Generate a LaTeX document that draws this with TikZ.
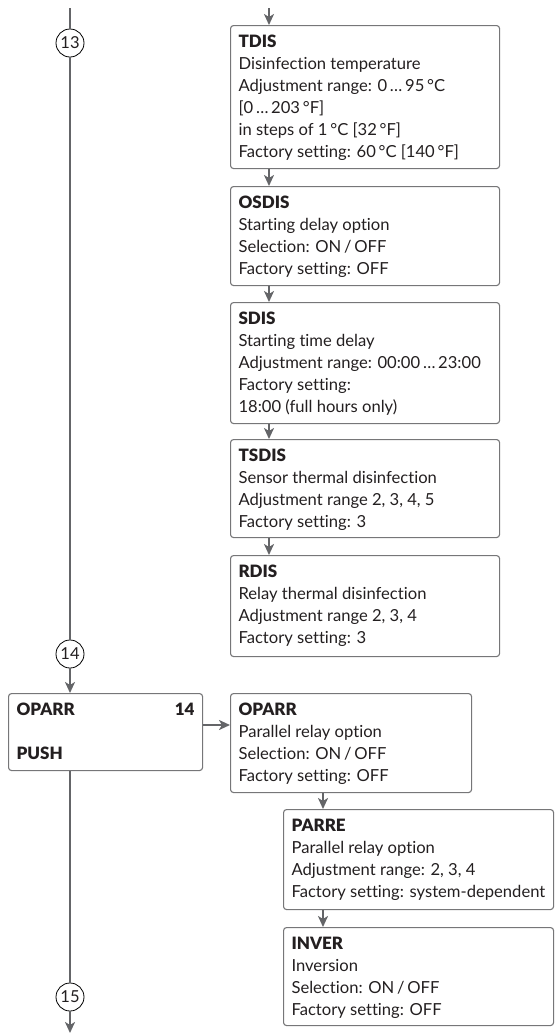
\documentclass[tikz,border=0pt]{standalone}
\usepackage{fontspec}
\setmainfont{Lato}[Ligatures=NoCommon]
\newfontface\ttlfont{Lato Black}
\usetikzlibrary{arrows.meta}
\definecolor{flowgray}{RGB}{100,101,104}
\definecolor{boxgray}{RGB}{118,118,120}
\definecolor{txt}{RGB}{35,31,32}
\newcommand{\boxcontent}[3]{\parbox[t][#2][t]{#1}{\raggedright\strut #3}}
\newcommand{\ttl}[1]{{\fontsize{17}{22}\ttlfont #1}}
\tikzset{
  infobox/.style={draw=boxgray, line width=1.1pt, rounded corners=3pt, anchor=north west,
    inner xsep=8pt, inner ysep=6.6pt, text=txt, font=\fontsize{16.6}{22}\selectfont},
  flow/.style={draw=flowgray, line width=2pt},
  flowarrow/.style={flow, -{Stealth[length=11pt,width=10pt,inset=3pt]}},
  numcircle/.style={circle, draw=black, line width=0.8pt, fill=white, minimum size=28pt,
    inner sep=0pt, text=txt, font=\fontsize{16.5}{18}\selectfont}
}
\begin{document}
\begin{tikzpicture}[x=1pt,y=-1pt]
\useasboundingbox (0,0) rectangle (555,1034);
% right column boxes
\node[infobox] (tdis) at (230,25) {\boxcontent{253pt}{129.8pt}{\ttl{TDIS}\\
Disinfection temperature\\
Adjustment range: 0\,…\,95\,°C\\
{[}0\,…\,203\,°F]\\
in steps of 1\,°C [32\,°F]\\
Factory setting: 60\,°C [140\,°F]}};
\node[infobox] (osdis) at (230,186) {\boxcontent{253pt}{85.8pt}{\ttl{OSDIS}\\
Starting delay option\\
Selection: ON\,/\,OFF\\
Factory setting: OFF}};
\node[infobox] (sdis) at (230,302) {\boxcontent{253pt}{107.8pt}{\ttl{SDIS}\\
Starting time delay\\
Adjustment range: 00:00\,…\,23:00\\
Factory setting:\\
18:00 (full hours only)}};
\node[infobox] (tsdis) at (230,439) {\boxcontent{253pt}{84.8pt}{\ttl{TSDIS}\\
Sensor thermal disinfection\\
Adjustment range 2, 3, 4, 5\\
Factory setting: 3}};
\node[infobox] (rdis) at (230,555) {\boxcontent{253pt}{87.8pt}{\ttl{RDIS}\\
Relay thermal disinfection\\
Adjustment range 2, 3, 4\\
Factory setting: 3}};
% menu box
\node[infobox] (oparrL) at (8,693) {\boxcontent{178pt}{63.8pt}{\ttl{OPARR}\hfill\ttl{14}\hspace*{5pt}\\[22pt]
\ttl{PUSH}}};
\node[infobox] (oparr) at (230,693) {\boxcontent{225pt}{85.8pt}{\ttl{OPARR}\\
Parallel relay option\\
Selection: ON\,/\,OFF\\
Factory setting: OFF}};
\node[infobox] (parre) at (283,809) {\boxcontent{254pt}{86.8pt}{\ttl{PARRE}\\
Parallel relay option\\
Adjustment range: 2, 3, 4\\
\mbox{Factory setting: system-dependent}}};
\node[infobox] (inver) at (283,927) {\boxcontent{254pt}{84.8pt}{\ttl{INVER}\\
Inversion\\
Selection: ON\,/\,OFF\\
Factory setting: OFF}};
% circles
\node[numcircle] (c13) at (70,43) {13};
\node[numcircle] (c14) at (70,654) {14};
\node[numcircle] (c15) at (70,997) {15};
% coordinates
\coordinate (ltop) at (70,8);
\coordinate (lbot) at (70,1033);
\coordinate (rtop) at (269,8);
\coordinate (px) at (323,0);
\coordinate (hy) at (0,725);
% left flow
\draw[flow] (ltop) -- (c13);
\draw[flow] (c13) -- (c14);
\draw[flowarrow] (c14) -- (c14 |- oparrL.north);
\draw[flow] (oparrL.south -| c14) -- (c15);
\draw[flowarrow] (c15) -- (lbot);
\draw[flowarrow] (oparrL.east |- hy) -- (oparr.west |- hy);
% right flow
\draw[flowarrow] (rtop) -- (rtop |- tdis.north);
\draw[flowarrow] (tdis.south -| rtop) -- (osdis.north -| rtop);
\draw[flowarrow] (osdis.south -| rtop) -- (sdis.north -| rtop);
\draw[flowarrow] (sdis.south -| rtop) -- (tsdis.north -| rtop);
\draw[flowarrow] (tsdis.south -| rtop) -- (rdis.north -| rtop);
\draw[flowarrow] (oparr.south -| px) -- (parre.north -| px);
\draw[flowarrow] (parre.south -| px) -- (inver.north -| px);
\end{tikzpicture}
\end{document}
